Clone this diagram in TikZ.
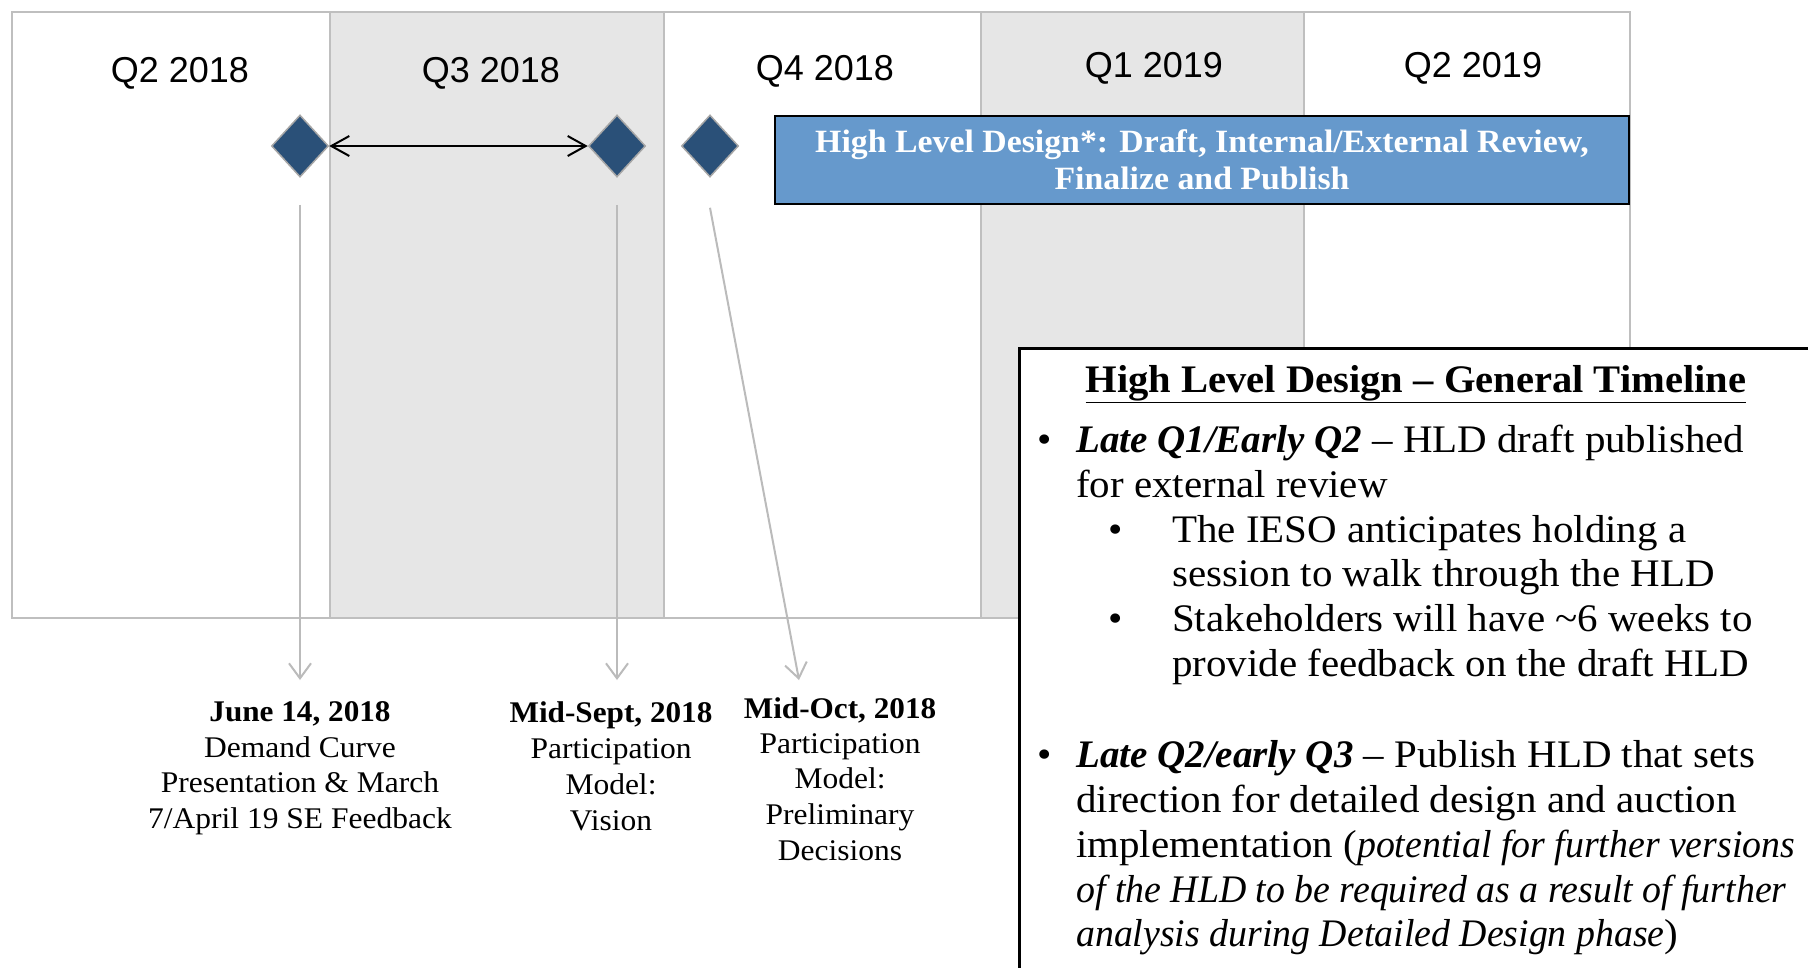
\documentclass[tikz,border=0pt]{standalone}
\usepackage{fontspec}
\setmainfont{Liberation Serif}[UprightFeatures={FakeStretch=1.05},BoldFeatures={FakeStretch=1.04},ItalicFeatures={FakeStretch=0.97}]
\setsansfont{Liberation Sans}
\usetikzlibrary{arrows.meta,shapes.geometric}
\definecolor{colshade}{HTML}{E6E6E6}
\definecolor{frameg}{HTML}{BFBFBF}
\definecolor{diafill}{HTML}{2A5078}
\definecolor{diaedge}{HTML}{A6A6A6}
\definecolor{hldfill}{HTML}{6699CC}
\definecolor{conng}{HTML}{BBBBBB}
\tikzset{
  framel/.style={draw=frameg, line width=2pt},
  qlab/.style={font=\sffamily\fontsize{36}{43}\selectfont, anchor=base, inner sep=0},
  mile/.style={shape=diamond, fill=diafill, draw=diaedge, line width=1.5pt, minimum width=57pt, minimum height=62pt, inner sep=0},
  span/.style={line width=2pt, black, {Straight Barb[length=18pt,width=20pt]}-{Straight Barb[length=18pt,width=20pt]}},
  drop/.style={line width=2pt, conng, -{Straight Barb[length=15pt,width=22pt]}},
  hldbox/.style={fill=hldfill, draw=black, line width=2pt, minimum width=854pt, minimum height=88pt, inner sep=0},
  hldtxt/.style={text=white, font=\bfseries\fontsize{32.5}{38}\selectfont, anchor=base, inner sep=0},
  lab/.style={font=\fontsize{30}{35}\selectfont, anchor=base, inner sep=0},
  labh/.style={font=\bfseries\fontsize{30}{35}\selectfont, anchor=base, inner sep=0},
  body/.style={font=\fontsize{39}{45}\selectfont, anchor=base west, inner sep=0},
  bul/.style={font=\fontsize{39}{45}\selectfont, anchor=base, inner sep=0},
}
\begin{document}
\begin{tikzpicture}[x=1pt,y=-1pt]
\useasboundingbox (0,0) rectangle (1808,967);
\clip (0,0) rectangle (1808,967);
\fill[white] (0,0) rectangle (1808,967);
% columns
\fill[colshade] (330,12) rectangle (664,618);
\fill[colshade] (981,12) rectangle (1304,618);
\draw[framel] (12,12) rectangle (1630,618);
\draw[framel] (330,12) -- (330,618);
\draw[framel] (664,12) -- (664,618);
\draw[framel] (981,12) -- (981,618);
\draw[framel] (1304,12) -- (1304,618);
% quarter labels
\node[qlab] (q1) at (180,82) {Q2 2018};
\node[qlab] (q2) at (491,82) {Q3 2018};
\node[qlab] (q3) at (825,80) {Q4 2018};
\node[qlab] (q4) at (1154,77) {Q1 2019};
\node[qlab] (q5) at (1473,77) {Q2 2019};
% milestones
\node[mile] (d1) at (300,146) {};
\node[mile] (d2) at (617,146) {};
\node[mile] (d3) at (710,146) {};
\draw[span] (d1.east) -- (d2.west);
% drop arrows
\coordinate (e1) at (300,680);
\coordinate (e2) at (617,680);
\coordinate (e3) at (799,680);
\draw[drop] ([yshift=-27pt]d1.south) -- (e1);
\draw[drop] ([yshift=-27pt]d2.south) -- (e2);
\draw[drop] ([yshift=-30pt]d3.south) -- (e3);
% HLD bar
\node[hldbox] (hld) at (1202,160) {};
\node[hldtxt] (hldt1) at (1202,152) {High Level Design*: Draft, Internal/External Review,};
\node[hldtxt] (hldt2) at (1202,189) {Finalize and Publish};
% milestone labels
\node[labh] (ja) at (300,721) {June 14, 2018};
\node[lab] (jb) at (300,757) {Demand Curve};
\node[lab] (jc) at (300,792) {Presentation \& March};
\node[lab] (jd) at (300,828) {7/April 19 SE Feedback};
\node[labh] (sa) at (611,722) {Mid-Sept, 2018};
\node[lab] (sb) at (611,758) {Participation};
\node[lab] (sc) at (611,794) {Model:};
\node[lab] (sd) at (611,830) {Vision};
\node[labh] (oa) at (840,718) {Mid-Oct, 2018};
\node[lab] (ob) at (840,753) {Participation};
\node[lab] (oc) at (840,788) {Model:};
\node[lab] (od) at (840,824) {Preliminary};
\node[lab] (oe) at (840,860) {Decisions};
% text box
\node[draw=black, fill=white, line width=2.5pt, anchor=north west, minimum width=820pt, minimum height=660pt, inner sep=0] (tbox) at (1018,347) {};
\node[bul, font=\bfseries\fontsize{39}{45}\selectfont] (title) at (1416,392) {\underline{High Level Design – General Timeline}};
\node[bul] (b1) at (1045,452) {\textbullet};
\node[body] (t1a) at (1076,452) {\textbf{\textit{Late Q1/Early Q2}} – HLD draft published};
\node[body] (t1b) at (1076,497) {for external review};
\node[bul] (s1) at (1116,542) {\textbullet};
\node[body] (s1a) at (1172,542) {The IESO anticipates holding a};
\node[body] (s1b) at (1172,586) {session to walk through the HLD};
\node[bul] (s2) at (1116,631) {\textbullet};
\node[body] (s2a) at (1172,631) {Stakeholders will have \textasciitilde6 weeks to};
\node[body] (s2b) at (1172,676) {provide feedback on the draft HLD};
\node[bul] (b2) at (1045,767) {\textbullet};
\node[body] (t2a) at (1076,767) {\textbf{\textit{Late Q2/early Q3}} – Publish HLD that sets};
\node[body] (t2b) at (1076,812) {direction for detailed design and auction};
\node[body] (t2c) at (1076,857) {implementation (\textit{potential for further versions}};
\node[body] (t2d) at (1076,902) {\textit{of the HLD to be required as a result of further}};
\node[body] (t2e) at (1076,946) {\textit{analysis during Detailed Design phase})};
\end{tikzpicture}
\end{document}
